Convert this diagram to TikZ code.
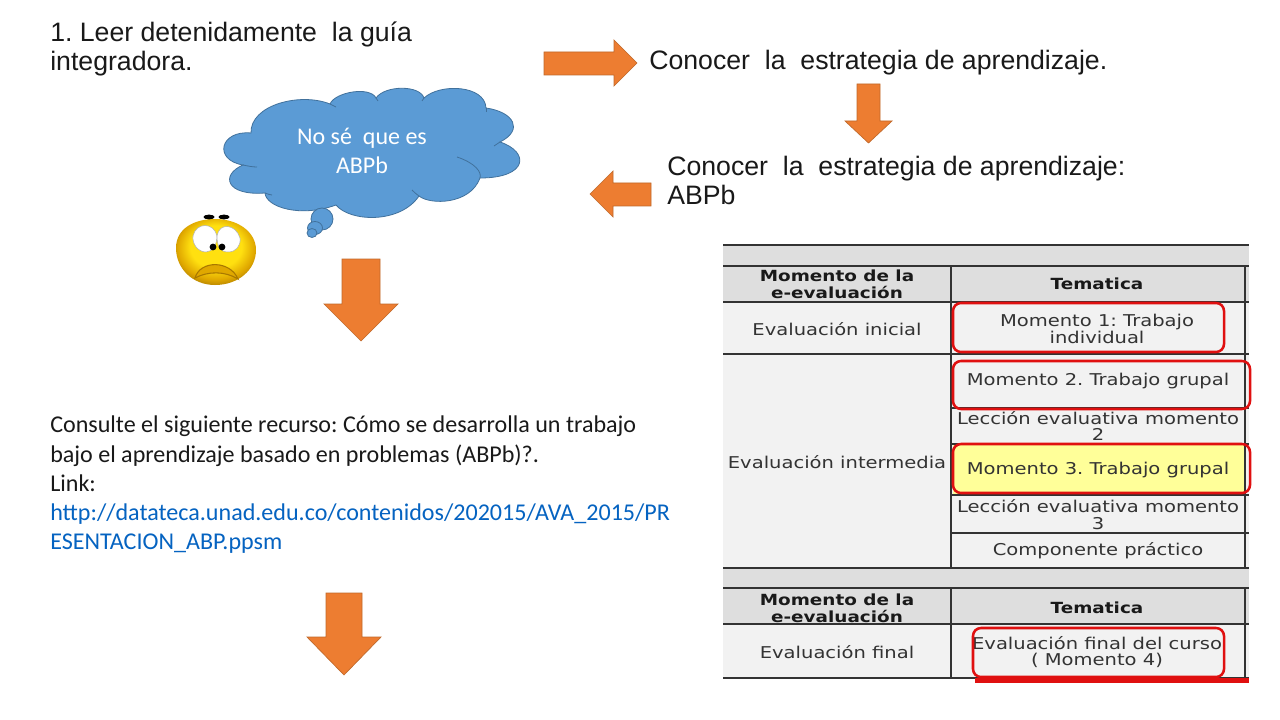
\documentclass[tikz,border=0pt]{standalone}
\usepackage{fontspec}
\setmainfont{Liberation Sans}
\newfontfamily\carlito{Carlito}
\newfontfamily\dejavu[FakeStretch=1.2]{DejaVu Sans}
\AtBeginDocument{\frenchspacing}
\definecolor{orangeA}{HTML}{ED7D31}
\definecolor{orangeB}{HTML}{C0692B}
\definecolor{cloudA}{HTML}{5B9BD5}
\definecolor{cloudB}{HTML}{41719C}
\definecolor{linkc}{HTML}{0563C1}
\definecolor{hdr}{HTML}{DEDEDE}
\definecolor{cellc}{HTML}{F2F2F2}
\definecolor{yel}{HTML}{FFFF99}
\definecolor{tline}{HTML}{333333}
\definecolor{tred}{HTML}{E01010}
\definecolor{faceY}{HTML}{FFE010}
\definecolor{faceO}{HTML}{E0A800}
\definecolor{faceD}{HTML}{A87800}
\pgfdeclareradialshading{faceball}{\pgfpoint{0bp}{6bp}}{color(0bp)=(faceY);color(16bp)=(faceY);color(24bp)=(faceO);color(30bp)=(faceD);color(50bp)=(faceD)}
\tikzset{
 blockarrow/.style={fill=orangeA,draw=orangeB,line width=0.5pt},
 title/.style={anchor=west,font=\fontsize{20}{21.75}\selectfont,inner sep=0pt,align=left,text=black!90},
 cellb/.style={font=\dejavu\bfseries\fontsize{11.5}{12.6}\selectfont,align=center,inner sep=0pt,text=black!90},
 cellt/.style={font=\dejavu\fontsize{12.2}{12.6}\selectfont,align=center,inner sep=0pt,text=black!80},
 rule/.style={draw=tline,line width=1.6pt},
 redbox/.style={draw=tred,line width=1.9pt,rounded corners=6pt},
 lobe/.style={draw=cloudB,line width=0.6pt,fill=cloudA},
 seam/.style={draw=cloudB,line width=0.6pt},
}
\begin{document}
\begin{tikzpicture}[x=0.75pt,y=-0.75pt]
\useasboundingbox (0,0) rectangle (1280,720);
\fill[white] (0,0) rectangle (1280,720);
% titles
\node[title,anchor=north west] (t1) at (50,21.5) {1. Leer detenidamente\ \ la guía\\integradora.};
\node[title] (t2) at (649,63) {Conocer\ \ la\ \ estrategia de aprendizaje.};
\node[title,anchor=north west] (t3) at (667,156) {Conocer\ \ la\ \ estrategia de aprendizaje:\\ABPb};
% arrows
\draw[blockarrow] (544,52) -- (614,52) -- (614,40) -- (637,63) -- (614,86) -- (614,75) -- (544,75) -- cycle;
\draw[blockarrow] (857,84) -- (880,84) -- (880,121) -- (892,121) -- (868.5,143) -- (845,121) -- (857,121) -- cycle;
\draw[blockarrow] (651,183) -- (613,183) -- (613,171) -- (590,194) -- (613,217) -- (613,206) -- (651,206) -- cycle;
\draw[blockarrow] (342,259) -- (380,259) -- (380,304) -- (398,304) -- (361,341) -- (324,304) -- (342,304) -- cycle;
\draw[blockarrow] (326,593) -- (362,593) -- (362,637) -- (381,637) -- (344,675) -- (307,637) -- (326,637) -- cycle;
% cloud
\draw[lobe] (251,133) .. controls (250,105) and (300,92) .. (330,104)
 .. controls (335,92) and (370,86) .. (376,98)
 .. controls (385,85) and (420,85) .. (424,98)
 .. controls (440,83) and (485,85) .. (486,108)
 .. controls (514,112) and (524,130) .. (500,142)
 .. controls (530,152) and (528,178) .. (480,178)
 .. controls (470,205) and (430,205) .. (419,196)
 .. controls (400,224) and (350,222) .. (336,205)
 .. controls (300,218) and (266,207) .. (265,193)
 .. controls (226,196) and (220,175) .. (243,165)
 .. controls (213,160) and (220,130) .. (251,133) -- cycle;
\draw[seam] (243,165) .. controls (248,166) and (252,167) .. (257,167);
\draw[seam] (265,193) .. controls (268,194) and (270,195) .. (272,195);
\draw[seam] (457,157) .. controls (475,163) and (482,172) .. (480,178);
\draw[seam] (500,142) -- (494,146);
\draw[seam] (419,196) .. controls (416,194) and (414,192) .. (412,190);
\draw[seam] (330,104) .. controls (332,105) and (334,106) .. (336,107);
\draw[seam] (376,98) -- (378,101);
\draw[seam] (424,98) -- (422,101);
\draw[seam] (486,108) -- (486,112);
\draw[lobe] (322,219) ellipse [x radius=11,y radius=11];
\draw[lobe] (315,228) ellipse [x radius=7.5,y radius=6.5];
\draw[lobe] (312,233) ellipse [x radius=5,y radius=4.5];
\node[font=\carlito\fontsize{18}{21.9}\selectfont,text=white,align=center,inner sep=0pt] (cloudtext) at (362,151) {No sé\ \ que es\\ABPb};
% face
\shade[shading=faceball] (176,248) .. controls (176,228) and (195,219) .. (215,219) .. controls (238,219) and (256,232) .. (256,250) .. controls (256,270) and (238,285) .. (215,285) .. controls (192,285) and (176,268) .. (176,248) -- cycle;
\draw[faceD,line width=0.8pt,fill=faceO] (195,278) .. controls (200,260) and (230,260) .. (238,279) .. controls (225,271) and (208,271) .. (195,278) -- cycle;
\fill[white,draw=black!30] (193,236) .. controls (196,222) and (214,222) .. (217,236) .. controls (217,244) and (213,252) .. (206,252) .. controls (198,252) and (192,244) .. (193,236) -- cycle;
\fill[white,draw=black!30] (217,236) .. controls (219,222) and (236,224) .. (240,238) .. controls (241,246) and (236,252) .. (228,252) .. controls (220,252) and (217,246) .. (217,236) -- cycle;
\fill[black] (213,247) circle [radius=3.4];
\fill[black] (222,247) circle [radius=3.4];
\fill[black] (209,217) ellipse [x radius=5.5,y radius=2.4];
\fill[black] (224,217) ellipse [x radius=5.5,y radius=2.4];
% body text
\node[anchor=north west,inner sep=0pt,align=left,font=\carlito\fontsize{18.05}{21.9}\selectfont,text=black!90] (body) at (50,416) {Consulte el siguiente recurso: Cómo se desarrolla un trabajo\\bajo el aprendizaje basado en problemas (ABPb)?.\\Link:\\\textcolor{linkc}{http://datateca.unad.edu.co/contenidos/202015/AVA\_2015/PR}\\\textcolor{linkc}{ESENTACION\_ABP.ppsm}};
% table fills
\fill[hdr] (723,245) rectangle (1249,302);
\fill[cellc] (723,302) rectangle (1249,568);
\fill[yel] (953,444) rectangle (1245,495);
\fill[hdr] (723,568) rectangle (1249,625);
\fill[cellc] (723,625) rectangle (1249,678);
% table rules
\foreach \yy in {245,266,302,354,568,588,624,678}{\draw[rule] (723,\yy) -- (1249,\yy);}
\foreach \yy in {408,444,495,533}{\draw[rule] (951,\yy) -- (1249,\yy);}
\draw[rule] (951,266) -- (951,568);
\draw[rule] (951,588) -- (951,678);
\draw[rule] (1245,266) -- (1245,568);
\draw[rule] (1245,588) -- (1245,678);
% table texts
\node[cellb] (h1) at (837,284) {Momento de la\\e-evaluación};
\node[cellb] (h2) at (1097,284) {Tematica};
\node[cellt] (c1) at (837,329) {Evaluación inicial};
\node[cellt] (c2) at (837,462) {Evaluación intermedia};
\node[cellt] (m1) at (1097,329) {Momento 1: Trabajo\\individual};
\node[cellt] (m2) at (1098,381) {Momento 2. Trabajo grupal};
\node[cellt] (l2) at (1098,426) {Lección evaluativa momento\\2};
\node[cellt] (m3) at (1098,470) {Momento 3. Trabajo grupal};
\node[cellt] (l3) at (1098,515) {Lección evaluativa momento\\3};
\node[cellt] (cp) at (1098,551) {Componente práctico};
\node[cellb] (h3) at (837,608) {Momento de la\\e-evaluación};
\node[cellb] (h4) at (1097,608) {Tematica};
\node[cellt] (c3) at (837,652) {Evaluación final};
\node[cellt] (m4) at (1097,652) {Evaluación final del curso\\( Momento 4)};
% red boxes
\draw[redbox] (953,303) rectangle (1224,352);
\draw[redbox] (953,361) rectangle (1250,409);
\draw[redbox] (953,444) rectangle (1250,493);
\draw[redbox] (973,628) rectangle (1224,677);
\fill[tred] (975,678) rectangle (1249,683);
\end{tikzpicture}
\end{document}
